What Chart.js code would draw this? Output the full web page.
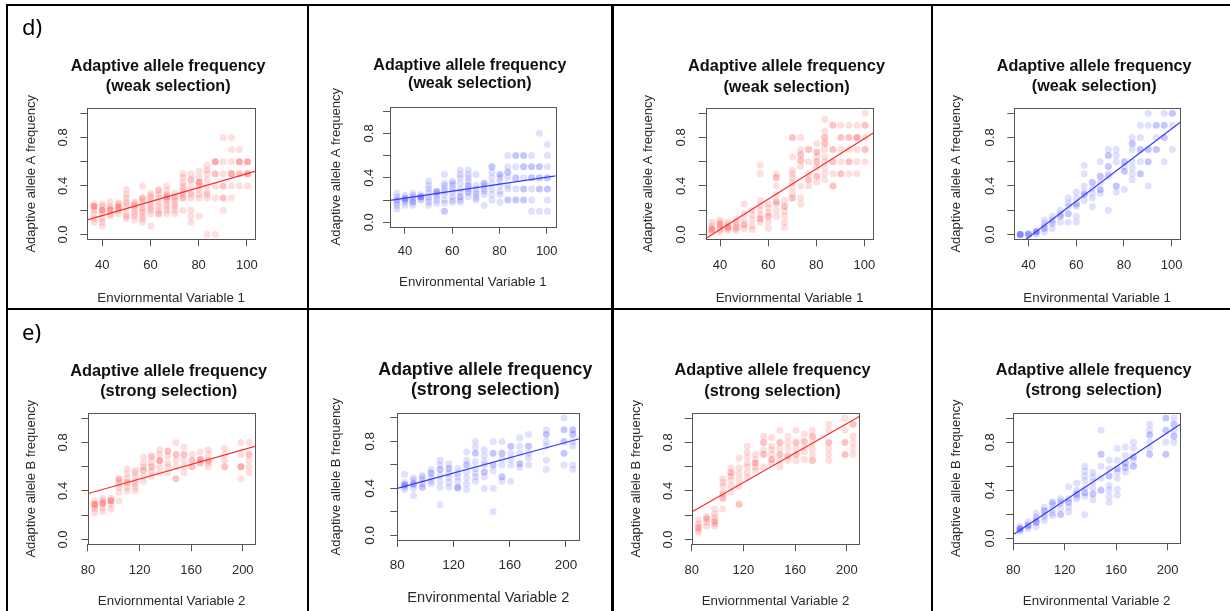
<!DOCTYPE html>
<html><head><meta charset="utf-8">
<script src="https://cdn.jsdelivr.net/npm/chart.js@4.4.1/dist/chart.umd.min.js"></script>
<style>
html,body{margin:0;padding:0;background:#fff;}
#fig{position:relative;width:1230px;height:611px;overflow:hidden;background:#fff;}
.rule{position:absolute;background:#000;z-index:5}
.tag{position:absolute;font-family:'Noto Sans','Open Sans',sans-serif;font-size:22px;line-height:22px;color:#000;z-index:6}
canvas{position:absolute;z-index:1}
</style></head><body><div id="fig">
<div class="rule" style="left:6px;top:4px;width:1224px;height:2px"></div>
<div class="rule" style="left:6px;top:4px;width:2px;height:607px"></div>
<div class="rule" style="left:307px;top:4px;width:2px;height:607px"></div>
<div class="rule" style="left:611px;top:4px;width:3px;height:607px"></div>
<div class="rule" style="left:931px;top:4px;width:2px;height:607px"></div>
<div class="rule" style="left:6px;top:308px;width:1224px;height:2px"></div>
<div class="tag" style="left:22px;top:15px">d)</div>
<div class="tag" style="left:22px;top:320px">e)</div>
</div>
<script>
// ---------- data ----------
const env1Levels = [36.6, 40.0, 43.3, 46.7, 50.0, 53.4, 56.7, 60.1, 63.4, 66.8, 70.1, 73.5, 76.8, 80.2, 83.5, 86.9, 90.2, 93.6, 96.9, 100.3];
const env2Levels = [85.2, 91.5, 97.8, 104.1, 110.4, 116.7, 123.0, 129.3, 135.6, 141.9, 148.2, 154.5, 160.8, 167.1, 173.4, 186.0, 198.6, 204.9];
const env1Ticks = [40, 60, 80, 100];
const env2Ticks = [80, 120, 160, 200];
const freqTicks = [0, 0.2, 0.4, 0.6, 0.8, 1.0];
const freqTickLabels = ['0.0', '', '0.4', '', '0.8', ''];

// panel d, column 1 (red, shallow)
const weakA1 = [
  [0.10,0.13,0.17,0.20,0.23,0.23,0.23,0.25],
  [0.07,0.10,0.13,0.17,0.20,0.20,0.20,0.23,0.25],
  [0.15,0.17,0.20,0.21,0.21,0.23,0.27],
  [0.17,0.20,0.22,0.22,0.23,0.25,0.26],
  [0.13,0.15,0.17,0.22,0.25,0.27,0.30,0.33,0.37],
  [0.12,0.15,0.17,0.20,0.22,0.24,0.25,0.27],
  [0.10,0.13,0.15,0.18,0.20,0.22,0.25,0.28,0.30,0.30,0.40],
  [0.07,0.17,0.20,0.22,0.24,0.27,0.30,0.32,0.34],
  [0.17,0.17,0.20,0.23,0.26,0.30,0.33,0.36,0.37],
  [0.17,0.20,0.23,0.25,0.28,0.30,0.31,0.31,0.33,0.36,0.40],
  [0.17,0.20,0.23,0.25,0.28,0.30,0.31,0.34],
  [0.20,0.30,0.30,0.33,0.35,0.38,0.40,0.43,0.47,0.50],
  [0.10,0.15,0.20,0.30,0.33,0.35,0.40,0.45,0.45,0.50],
  [0.15,0.30,0.33,0.37,0.40,0.43,0.43,0.43,0.47,0.52],
  [0.00,0.30,0.33,0.35,0.40,0.45,0.50,0.53,0.57],
  [0.00,0.30,0.40,0.50,0.50,0.60,0.60,0.60],
  [0.20,0.30,0.30,0.40,0.40,0.50,0.60,0.80],
  [0.30,0.40,0.50,0.50,0.50,0.60,0.70,0.80],
  [0.40,0.50,0.50,0.60,0.60,0.60,0.70],
  [0.40,0.50,0.50,0.50,0.60,0.60,0.60]
];
// panel d, column 2 (blue, shallow)
const weakA2 = [
  [0.12,0.15,0.17,0.20,0.20,0.23,0.26],
  [0.15,0.18,0.20,0.21,0.21,0.22,0.24],
  [0.15,0.18,0.18,0.20,0.22,0.24,0.26],
  [0.20,0.21,0.23,0.23,0.23,0.25],
  [0.15,0.18,0.21,0.23,0.27,0.30,0.33,0.37],
  [0.17,0.20,0.23,0.25,0.27,0.28,0.28],
  [0.10,0.10,0.17,0.20,0.25,0.28,0.30,0.33,0.35,0.43],
  [0.18,0.20,0.23,0.27,0.30,0.33,0.35,0.37],
  [0.18,0.20,0.23,0.23,0.27,0.30,0.35,0.40,0.43,0.47],
  [0.23,0.27,0.27,0.30,0.33,0.33,0.37,0.40,0.43,0.47],
  [0.20,0.22,0.25,0.27,0.30,0.33,0.43],
  [0.15,0.25,0.28,0.30,0.33,0.35,0.35],
  [0.20,0.25,0.30,0.35,0.40,0.45,0.50,0.50],
  [0.18,0.25,0.28,0.33,0.37,0.40,0.43,0.43],
  [0.20,0.20,0.30,0.33,0.40,0.45,0.45,0.50,0.60],
  [0.20,0.20,0.30,0.40,0.40,0.50,0.60,0.60],
  [0.20,0.20,0.30,0.30,0.40,0.50,0.50,0.60,0.60],
  [0.10,0.20,0.30,0.40,0.40,0.50,0.50,0.60],
  [0.10,0.30,0.30,0.40,0.40,0.50,0.50,0.80],
  [0.10,0.20,0.30,0.30,0.40,0.40,0.50,0.60,0.70]
];
// panel d, column 3 (red, steep)
const weakA3 = [
  [0.02,0.04,0.04,0.05,0.07,0.10],
  [0.02,0.04,0.06,0.08,0.08,0.10,0.12],
  [0.03,0.05,0.06,0.06,0.08,0.10],
  [0.03,0.05,0.06,0.08,0.10,0.13],
  [0.05,0.08,0.08,0.12,0.17,0.25],
  [0.04,0.07,0.12,0.16,0.20],
  [0.10,0.13,0.13,0.16,0.20,0.24,0.28,0.50,0.57],
  [0.05,0.10,0.15,0.15,0.18,0.22,0.25],
  [0.15,0.20,0.25,0.27,0.27,0.33,0.40,0.47,0.47,0.50],
  [0.06,0.10,0.15,0.19,0.23,0.23,0.28],
  [0.30,0.30,0.34,0.39,0.43,0.47,0.50,0.53,0.64,0.80,0.80],
  [0.25,0.30,0.40,0.56,0.61,0.61,0.66,0.66,0.70,0.80],
  [0.40,0.45,0.45,0.50,0.60,0.70,0.70],
  [0.43,0.48,0.48,0.55,0.60,0.60,0.64,0.68,0.68,0.75],
  [0.45,0.50,0.55,0.60,0.64,0.70,0.75,0.75,0.80,0.80,0.85,0.95],
  [0.40,0.40,0.50,0.60,0.60,0.70,0.70,0.90,0.90],
  [0.50,0.50,0.60,0.70,0.80,0.80,0.90],
  [0.50,0.60,0.60,0.70,0.80,0.80,0.90],
  [0.50,0.60,0.70,0.80,0.80,0.80,0.90],
  [0.60,0.70,0.70,0.80,0.90,0.90,1.00]
];
// panel d, column 4 (blue, steep)
const weakA4 = [
  [0.00,0.00,0.00,0.00,0.00],
  [0.00,0.00,0.00,0.01],
  [0.00,0.02,0.02,0.02,0.03],
  [0.02,0.05,0.05,0.07,0.09,0.12],
  [0.05,0.09,0.10,0.12,0.15],
  [0.10,0.15,0.15,0.17,0.20],
  [0.10,0.17,0.17,0.23,0.26,0.30],
  [0.10,0.15,0.23,0.25,0.25,0.30,0.35],
  [0.28,0.33,0.33,0.35,0.40,0.50,0.57],
  [0.23,0.30,0.34,0.38,0.43,0.43],
  [0.34,0.37,0.37,0.43,0.48,0.48,0.60],
  [0.20,0.48,0.50,0.56,0.56,0.65,0.65,0.70],
  [0.35,0.40,0.40,0.60,0.65,0.70],
  [0.37,0.52,0.52,0.56,0.60,0.60],
  [0.45,0.50,0.55,0.60,0.70,0.75,0.75,0.80],
  [0.50,0.50,0.60,0.70,0.70,0.80,0.90],
  [0.40,0.60,0.60,0.70,0.70,0.90,1.00],
  [0.70,0.70,0.80,0.90,0.90],
  [0.60,0.80,0.80,0.90,0.90,1.00],
  [0.70,0.90,1.00,1.00]
];
// panel e, column 1 (red, shallow)
const strongB1 = [
  [0.22,0.25,0.27,0.29,0.29,0.29,0.32],
  [0.23,0.26,0.29,0.30,0.30,0.32,0.34],
  [0.25,0.29,0.32,0.32,0.32,0.34],
  [0.32,0.39,0.43,0.46,0.48,0.50,0.50],
  [0.40,0.43,0.47,0.47,0.50,0.54,0.58],
  [0.40,0.43,0.46,0.48,0.52,0.55,0.57],
  [0.48,0.52,0.57,0.57,0.60,0.63,0.68],
  [0.52,0.56,0.60,0.60,0.64,0.68,0.69],
  [0.55,0.60,0.65,0.65,0.65,0.70,0.74],
  [0.55,0.60,0.63,0.69,0.73,0.73],
  [0.50,0.50,0.60,0.65,0.70,0.70,0.80],
  [0.55,0.60,0.65,0.70,0.70,0.76],
  [0.60,0.60,0.65,0.65,0.70],
  [0.63,0.63,0.66,0.66,0.66,0.72],
  [0.60,0.63,0.65,0.65,0.70,0.74],
  [0.60,0.60,0.65,0.70,0.75],
  [0.50,0.60,0.60,0.60,0.70,0.80],
  [0.55,0.60,0.65,0.70,0.70,0.80]
];
// panel e, column 2 (blue, shallow)
const strongB2 = [
  [0.39,0.41,0.43,0.43,0.43,0.45,0.52],
  [0.34,0.40,0.43,0.44,0.44,0.47,0.49],
  [0.41,0.41,0.44,0.47,0.49,0.51],
  [0.44,0.46,0.49,0.53,0.53,0.56],
  [0.26,0.41,0.46,0.51,0.56,0.56,0.60,0.64],
  [0.41,0.45,0.49,0.53,0.57,0.57,0.61],
  [0.40,0.41,0.41,0.46,0.50,0.53,0.57],
  [0.39,0.44,0.49,0.54,0.60,0.60,0.64,0.71],
  [0.46,0.50,0.53,0.57,0.63,0.70,0.70,0.75,0.80],
  [0.40,0.50,0.54,0.54,0.60,0.63,0.68,0.73],
  [0.20,0.40,0.55,0.60,0.60,0.70,0.70,0.80],
  [0.46,0.50,0.50,0.60,0.65,0.70,0.70,0.80],
  [0.46,0.60,0.65,0.70,0.76,0.76],
  [0.58,0.61,0.61,0.70,0.76,0.83],
  [0.60,0.66,0.70,0.76,0.76,0.86],
  [0.56,0.64,0.76,0.80,0.86,0.86,0.90],
  [0.60,0.70,0.70,0.80,0.80,0.90,0.90,1.00],
  [0.56,0.60,0.76,0.80,0.86,0.86,0.90,0.90]
];
// panel e, column 3 (red, steep)
const strongB3 = [
  [0.06,0.08,0.10,0.10,0.13,0.16],
  [0.11,0.14,0.17,0.17,0.19],
  [0.11,0.13,0.15,0.15,0.18,0.21,0.25],
  [0.25,0.34,0.34,0.37,0.39,0.44,0.47,0.50],
  [0.39,0.44,0.49,0.52,0.55,0.55,0.59],
  [0.29,0.29,0.44,0.49,0.54,0.59,0.67],
  [0.51,0.55,0.60,0.63,0.68,0.72,0.77],
  [0.57,0.60,0.63,0.63,0.66,0.70],
  [0.60,0.70,0.70,0.74,0.80,0.80,0.85],
  [0.63,0.66,0.66,0.70,0.74,0.77,0.84],
  [0.60,0.65,0.70,0.70,0.75,0.80,0.80,0.90],
  [0.65,0.69,0.69,0.75,0.80,0.85],
  [0.65,0.70,0.70,0.75,0.80,0.80,0.90],
  [0.66,0.72,0.76,0.81,0.81,0.87],
  [0.65,0.65,0.70,0.75,0.80,0.85,0.85,0.90],
  [0.65,0.70,0.75,0.80,0.80,0.90,0.95],
  [0.70,0.70,0.80,0.80,0.90,1.00],
  [0.70,0.75,0.80,0.85,0.95,0.95]
];
// panel e, column 4 (blue, steep)
const strongB4 = [
  [0.06,0.07,0.08,0.08,0.08,0.10],
  [0.08,0.10,0.11,0.11,0.14],
  [0.10,0.13,0.14,0.14,0.16,0.18,0.21],
  [0.15,0.18,0.20,0.23,0.23,0.26],
  [0.19,0.21,0.24,0.28,0.30,0.30],
  [0.20,0.20,0.25,0.29,0.31,0.33],
  [0.22,0.26,0.30,0.30,0.33,0.43],
  [0.33,0.35,0.37,0.37,0.40,0.46],
  [0.20,0.35,0.38,0.38,0.42,0.48,0.52,0.56,0.60],
  [0.32,0.37,0.37,0.42,0.47,0.51,0.55],
  [0.40,0.40,0.50,0.60,0.70,0.70,0.90],
  [0.30,0.35,0.40,0.44,0.52,0.52,0.58,0.65],
  [0.36,0.41,0.50,0.55,0.58,0.58,0.65,0.75],
  [0.55,0.59,0.59,0.63,0.63,0.69,0.76],
  [0.60,0.60,0.65,0.68,0.68,0.75,0.80],
  [0.70,0.70,0.75,0.80,0.86,0.86,0.90,0.95],
  [0.70,0.70,0.80,0.90,0.90,1.00,1.00],
  [0.80,0.85,0.85,0.90,0.95,0.95,1.00]
];
// fitted regression lines: [intercept, slope]
const fitA1 = [-0.0743, 0.005747];
const fitA2 = [0.091, 0.00315];
const fitA3 = [-0.4578, 0.012477];
const fitA4 = [-0.6226, 0.01494];
const fitB1 = [0.137, 0.003007];
const fitB2 = [0.1387, 0.003266];
const fitB3 = [-0.2603, 0.006079];
const fitB4 = [-0.5306, 0.007045];

// ---------- styling / layout ----------
const FONT = "'Liberation Sans', Arial, Helvetica, sans-serif";
const TFONT = "'Liberation Sans', Arial, Helvetica, sans-serif";
const TICK_LEN = 7;
const RED = {pt: 'rgba(255,0,0,0.13)', ln: '#ff2a2a'};
const BLUE = {pt: 'rgba(0,0,255,0.12)', ln: '#2f3cff'};
const T1 = 'Adaptive allele frequency';

const panels = [
  {cell:[9,7,298,300], box:[87.3,108.3,255,239.3], xr:[33.8,103.4], tY:66.7, tLH:20, tW:195, yTX:31.7, xTY:298, yLX:63.3, xLY:265, xFs:13.3, yFs:13, kFs:13,
   sub:'(weak selection)', xt:'Enviornmental Variable 1', yt:'Adaptive allele A frequency', col:RED, lv:env1Levels, xt2:env1Ticks, d:weakA1, fit:fitA1},
  {cell:[311,7,299,300], box:[390,106.7,555.7,226.7], xr:[33.65,103.8], tY:66, tLH:17.5, tW:193, yTX:336.7, xTY:282.7, yLX:369, xLY:251, xFs:13.3, yFs:13, kFs:13,
   sub:'(weak selection)', xt:'Environmental Variable 1', yt:'Adaptive allele A frequency', col:BLUE, lv:env1Levels, xt2:env1Ticks, d:weakA2, fit:fitA2},
  {cell:[615,7,315,300], box:[705.7,108.3,873.3,239.3], xr:[34.05,103.7], tY:66.7, tLH:20.3, tW:197, yTX:648.3, xTY:298.3, yLX:681.7, xLY:265, xFs:13.3, yFs:13, kFs:13,
   sub:'(weak selection)', xt:'Enviornmental Variable 1', yt:'Adaptive allele A frequency', col:RED, lv:env1Levels, xt2:env1Ticks, d:weakA3, fit:fitA3},
  {cell:[934,7,296,300], box:[1014.3,108.3,1180,239.3], xr:[34.1,103.5], tY:66.7, tLH:20.3, tW:195, yTX:956.7, xTY:298, yLX:990, xLY:265, xFs:13.3, yFs:13, kFs:13,
   sub:'(weak selection)', xt:'Environmental Variable 1', yt:'Adaptive allele A frequency', col:BLUE, lv:env1Levels, xt2:env1Ticks, d:weakA4, fit:fitA4},
  {cell:[9,311,298,300], box:[88.3,413.3,255,544.3], xr:[80.3,209.5], tY:371, tLH:20, tW:197, yTX:31.7, xTY:601, yLX:63.3, xLY:570, xFs:13.3, yFs:13, kFs:13,
   sub:'(strong selection)', xt:'Enviornmental Variable 2', yt:'Adaptive allele B frequency', col:RED, lv:env2Levels, xt2:env2Ticks, d:strongB1, fit:fitB1},
  {cell:[311,311,299,300], box:[397.3,413.3,579.3,540], xr:[80,209.5], tY:370, tLH:20, tW:214, yTX:336.7, xTY:598.3, yLX:370, xLY:565, xFs:14.6, yFs:13, kFs:13.5,
   sub:'(strong selection)', xt:'Environmental Variable 2', yt:'Adaptive allele B frequency', col:BLUE, lv:env2Levels, xt2:env2Ticks, d:strongB2, fit:fitB2},
  {cell:[615,311,315,300], box:[691.7,413.3,859.3,544.3], xr:[80,209.7], tY:371, tLH:20.7, tW:196, yTX:636.7, xTY:601.7, yLX:668, xLY:570, xFs:13.3, yFs:13, kFs:13,
   sub:'(strong selection)', xt:'Enviornmental Variable 2', yt:'Adaptive allele B frequency', col:RED, lv:env2Levels, xt2:env2Ticks, d:strongB3, fit:fitB3},
  {cell:[934,311,296,300], box:[1013.3,413.3,1180,543.3], xr:[80,209.6], tY:371, tLH:20, tW:196, yTX:956.7, xTY:601.7, yLX:990, xLY:570, xFs:13.3, yFs:13, kFs:13,
   sub:'(strong selection)', xt:'Environmental Variable 2', yt:'Adaptive allele B frequency', col:BLUE, lv:env2Levels, xt2:env2Ticks, d:strongB4, fit:fitB4}
];
const TITLE_SHIFT = -3;   // titles sit slightly left of the plot-box centre

const boxPlugin = {
  id: 'rbox',
  afterDraw(chart) {
    const {ctx, chartArea: a} = chart;
    ctx.save();
    ctx.strokeStyle = '#555';
    ctx.lineWidth = 1;
    const l = Math.round(a.left) + 0.5, t = Math.round(a.top) + 0.5;
    ctx.strokeRect(l, t, Math.round(a.right) - Math.round(a.left), Math.round(a.bottom) - Math.round(a.top));
    ctx.restore();
  }
};

const measureCtx = document.createElement('canvas').getContext('2d');

function makePanel(p) {
  const [cx, cy, , ch] = p.cell;
  const [L, T, R, B] = p.box;

  measureCtx.font = 'bold 16px ' + TFONT;
  const tFs = 16 * p.tW / measureCtx.measureText(T1).width;

  const lhX = p.xFs * 1.2, lhY = p.yFs * 1.2, lhK = p.kFs * 1.2;
  const yScaleLeft = p.yTX - lhY / 2;
  const Wy = L - yScaleLeft;
  const Wd = Wy + 2 * TITLE_SHIFT;          // spacer on the right so the title centres over the box
  const cw = Math.ceil(R - cx + Wd + 2);
  const Hx = p.xTY + lhX / 2 - B;
  const titleTop = p.tY - p.tLH / 2;
  const titlePadBottom = T - (titleTop + 2 * p.tLH);
  measureCtx.font = p.kFs + 'px ' + FONT;
  const widest = measureCtx.measureText('0.0').width;
  const yTickPad = L - TICK_LEN - widest / 2 - p.yLX;
  const xTickPad = p.xLY - B - TICK_LEN - lhK / 2;

  const cv = document.createElement('canvas');
  cv.width = cw; cv.height = ch;
  cv.style.left = cx + 'px'; cv.style.top = cy + 'px';
  cv.style.width = cw + 'px'; cv.style.height = ch + 'px';
  document.getElementById('fig').appendChild(cv);

  const pts = [];
  p.d.forEach((col, i) => col.forEach(v => pts.push({x: p.lv[i], y: v})));
  const fitLine = p.xr.map(x => ({x: x, y: p.fit[0] + p.fit[1] * x}));

  new Chart(cv, {
    type: 'scatter',
    data: {
      datasets: [
        {type: 'line', data: fitLine, borderColor: p.col.ln, borderWidth: 1.2, pointRadius: 0, fill: false, clip: 0, order: 0},
        {type: 'scatter', data: pts, backgroundColor: p.col.pt, borderWidth: 0, pointRadius: 3.5, pointHoverRadius: 3.5, order: 1}
      ]
    },
    options: {
      responsive: false, animation: false, devicePixelRatio: 1,
      events: [],
      layout: {padding: {left: yScaleLeft - cx, top: titleTop - cy, right: cx + cw - R - Wd, bottom: cy + ch - (B + Hx)}},
      plugins: {
        legend: {display: false}, tooltip: {enabled: false},
        title: {display: true, fullSize: true, text: [T1, p.sub], color: '#111',
          font: {family: TFONT, size: tFs, weight: 'bold', lineHeight: p.tLH / tFs},
          padding: {top: 0, bottom: titlePadBottom}}
      },
      scales: {
        x: {
          type: 'linear', position: 'bottom', min: p.xr[0], max: p.xr[1],
          afterBuildTicks: s => { s.ticks = p.xt2.map(v => ({value: v})); },
          afterFit: s => { s.height = Hx; },
          grid: {display: true, drawOnChartArea: false, drawTicks: true, tickLength: TICK_LEN, tickColor: '#555', tickWidth: 1},
          border: {display: false},
          ticks: {autoSkip: false, maxRotation: 0, minRotation: 0, padding: xTickPad, color: '#2a2a2a',
            font: {family: FONT, size: p.kFs}, callback: v => String(v)},
          title: {display: true, text: p.xt, color: '#2a2a2a', font: {family: FONT, size: p.xFs}, padding: 0}
        },
        y: {
          type: 'linear', position: 'left', min: -0.04, max: 1.04,
          afterBuildTicks: s => { s.ticks = freqTicks.map(v => ({value: v})); },
          afterFit: s => { s.width = Wy; },
          grid: {display: true, drawOnChartArea: false, drawTicks: true, tickLength: TICK_LEN, tickColor: '#555', tickWidth: 1},
          border: {display: false},
          ticks: {autoSkip: false, minRotation: 90, maxRotation: 90, crossAlign: 'center', padding: yTickPad, color: '#2a2a2a',
            font: {family: FONT, size: p.kFs}, callback: (v, i) => freqTickLabels[i]},
          title: {display: true, text: p.yt, color: '#2a2a2a', font: {family: FONT, size: p.yFs}, padding: 0}
        },
        spacer: {
          type: 'linear', position: 'right', axis: 'y', min: 0, max: 1, display: true,
          afterFit: s => { s.width = Wd; },
          grid: {display: false}, border: {display: false}, ticks: {display: false}, title: {display: false}
        }
      }
    },
    plugins: [boxPlugin]
  });
}

panels.forEach(makePanel);
</script>
</body></html>
